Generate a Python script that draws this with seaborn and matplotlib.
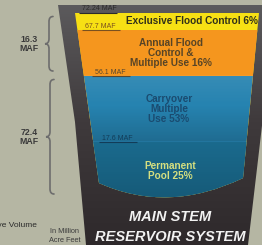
import numpy as np
import matplotlib
matplotlib.use("Agg")
import matplotlib.pyplot as plt
import matplotlib.transforms as mtransforms
from matplotlib.path import Path
from matplotlib.patches import PathPatch, Polygon
from matplotlib.colors import LinearSegmentedColormap
import seaborn as sns

# storage zones, bottom to top, in million acre feet
zone_names = ["Permanent\nPool 25%", "Carryover\nMultiple\nUse 53%",
              "Annual Flood\nControl &\nMultiple Use 16%", "Exclusive Flood Control 6%"]
zone_bottom = [0.0, 17.6, 56.1, 67.7]
zone_top = [17.6, 56.1, 67.7, 72.24]
zone_colors = ["#1a6a8d", "#2683b0", "#f5961e", "#f7e014"]
zone_text_colors = ["#d5df80", "#1a4b70", "#574426", "#2f2f1a"]

level_values = [72.24, 67.7, 56.1, 17.6]
level_labels = ["72.24 MAF", "67.7 MAF", "56.1 MAF", "17.6 MAF"]
level_colors = ["#2b2b2b", "#7a501f", "#574730", "#123c58"]

brace_spans = [(72.24, 56.1), (56.1, 0.0)]
brace_labels = ["16.3\nMAF", "72.4\nMAF"]

BG = "#b5b6a3"

# the picture is not drawn to scale: each zone gets its own stretch of the tank
knot_maf = [-45.0, 0.0, 17.6, 56.1, 67.7, 72.24, 95.0]
knot_px = [245, 199, 142, 76, 30, 13, 0]


def fwd(v):
    return -np.interp(v, knot_maf, knot_px)


def inv(p):
    return np.interp(-np.asarray(p), knot_px[::-1], knot_maf[::-1])


def to_px(v):
    return -fwd(v)


def brace(axis, x, y0, y1, color):
    ym = (y0 + y1) / 2
    r = 5
    verts = [(x + 4, y0), (x, y0), (x, y0 + r),
             (x, ym - r), (x, ym), (x - 4, ym),
             (x, ym), (x, ym + r),
             (x, y1 - r), (x, y1), (x + 4, y1)]
    codes = [Path.MOVETO, Path.CURVE3, Path.CURVE3,
             Path.LINETO, Path.CURVE3, Path.CURVE3,
             Path.CURVE3, Path.CURVE3,
             Path.LINETO, Path.CURVE3, Path.CURVE3]
    axis.add_patch(PathPatch(Path(verts, codes), fill=False, edgecolor=color,
                             lw=1.2, capstyle="round"))
    return ym


sns.set_style("white")
plt.rcParams["font.family"] = ["Liberation Sans", "DejaVu Sans"]

fig = plt.figure(figsize=(2.62, 2.45), dpi=100, facecolor=BG)

# pixel frame for the tank drawing
px = fig.add_axes([0, 0, 1, 1])
px.axis("off")

outer = Polygon([(58, 5), (276, 5), (258, 160), (248, 245), (86, 245), (75, 122)],
                closed=True, facecolor="none", edgecolor="none", transform=px.transData)
px.add_patch(outer)
rim = LinearSegmentedColormap.from_list("rim", ["#5d5c5e", "#3f3a3c", "#2e292b"])
im = px.imshow(np.linspace(0, 1, 256).reshape(-1, 1), cmap=rim,
               extent=(0, 262, 245, 0), aspect="auto")
im.set_clip_path(outer)
px.set_xlim(0, 262)
px.set_ylim(245, 0)

inner_path = Path([(75, 13), (259, 13), (243, 178), (168, 214), (99, 183), (75, 13)],
                  [Path.MOVETO, Path.LINETO, Path.LINETO, Path.CURVE3, Path.CURVE3,
                   Path.CLOSEPOLY])
inner = PathPatch(inner_path, transform=px.transData)

# zones in storage units
ax = fig.add_axes([0, 0, 1, 1])
ax.set_yscale("function", functions=(fwd, inv))

for top, color in sorted(zip(zone_top, zone_colors), reverse=True):
    sns.barplot(x=[170.0], y=[top], color=color, saturation=1, width=230,
                native_scale=True, linewidth=0, ax=ax)
    ax.patches[-1].set_clip_path(inner)

# soft light over the water: brighter near the surface, darker at depth
rows = np.arange(245) + 0.5
y_carry_top, y_carry_bot, y_bottom = to_px(56.1), to_px(17.6), to_px(0.0)
white_a = np.interp(rows, [y_carry_top, y_carry_top + 30], [0.08, 0.0])
black_a = np.where(rows < y_carry_bot,
                   np.interp(rows, [y_carry_top + 30, y_carry_bot], [0.0, 0.18]),
                   np.interp(rows, [y_carry_bot, y_bottom], [0.0, 0.15]))
shade = np.zeros((245, 1, 4))
shade[:, 0, :3] = np.where(white_a > 0, 1.0, 0.0)[:, None]
shade[:, 0, 3] = np.where(rows < y_carry_top, 0.0, white_a + black_a)
light = ax.imshow(shade, extent=(0, 262, 245, 0), aspect="auto", transform=px.transData,
                  interpolation="bilinear", zorder=1.5)
light.set_clip_path(inner)

label_x = [82, 85, 95, 102]
lift = mtransforms.offset_copy(ax.transData, fig=fig, x=0, y=2.5, units="dots")
for v, lab, col, lx in zip(level_values, level_labels, level_colors, label_x):
    ax.plot([lx - 3, lx + 35], [v, v], color=col, lw=0.8, solid_capstyle="butt")
    ax.text(lx, v, lab, transform=lift, fontsize=5, color=col, va="baseline", ha="left")

zone_cx = [170, 169, 171, 192]
for name, lo, hi, tc, cx in zip(zone_names, zone_bottom, zone_top, zone_text_colors, zone_cx):
    ax.text(cx, (lo + hi) / 2, name, ha="center", va="center", fontsize=7.2,
            fontweight="bold", color=tc, linespacing=1.0)

ax.set_xlim(0, 262)
ax.set_ylim(knot_maf[0], knot_maf[-1])
ax.axis("off")

# braces and side notes
for (hi, lo), lab, bx in zip(brace_spans, brace_labels, [49, 50]):
    ym = brace(px, bx, to_px(hi) + 3.5, to_px(lo) - 5, "#6d6d6d")
    px.text(29, ym, lab, ha="center", va="center", fontsize=6.3, fontweight="bold",
            color="#3a3a3a", linespacing=1.0)

px.text(37, 226.5, "Relative Volume", ha="right", va="baseline", fontsize=6, color="#2b2b2b")
px.text(65, 232.5, "In Million", ha="center", va="baseline", fontsize=5.3, color="#3c3c3c")
px.text(65, 242, "Acre Feet", ha="center", va="baseline", fontsize=5.3, color="#3c3c3c")

ax.text(170, 221, "MAIN STEM", transform=px.transData, ha="center", va="baseline",
        fontsize=10.5, fontweight="bold", fontstyle="italic", color="#f2f2f2")
ax.text(170, 241, "RESERVOIR SYSTEM", transform=px.transData, ha="center", va="baseline",
        fontsize=10.5, fontweight="bold", fontstyle="italic", color="#f2f2f2")

fig.savefig("out.png", dpi=100, facecolor=BG)
plt.close(fig)
